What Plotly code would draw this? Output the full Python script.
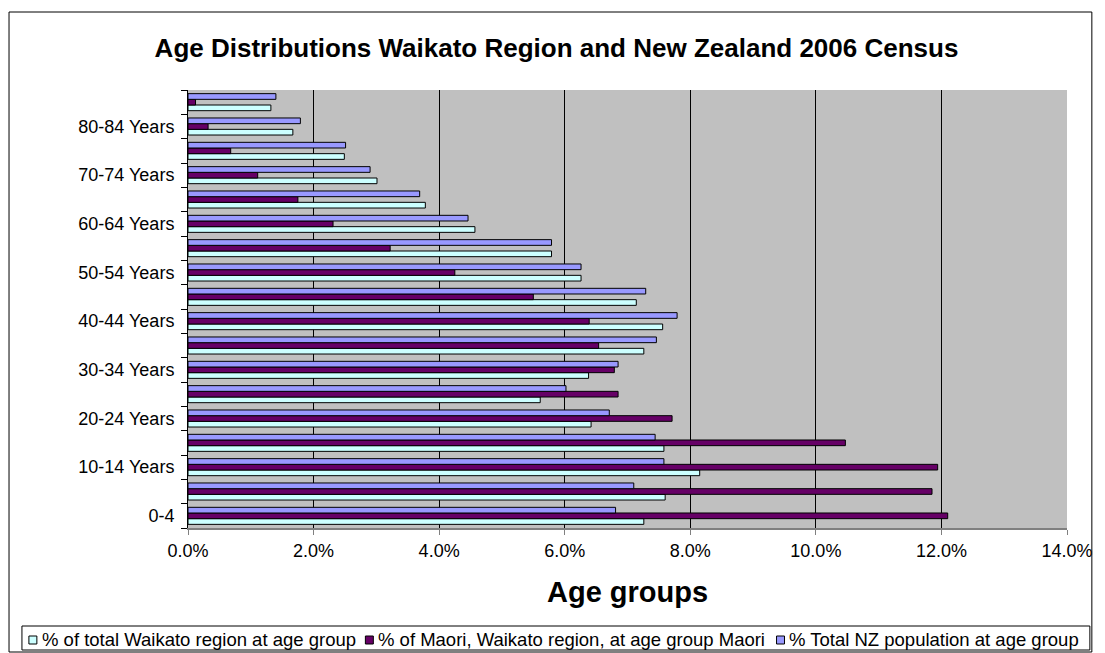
import plotly.graph_objects as go

categories = ["0-4", "5-9 Years", "10-14 Years", "15-19 Years", "20-24 Years", "25-29 Years",
              "30-34 Years", "35-39 Years", "40-44 Years", "45-49 Years", "50-54 Years",
              "55-59 Years", "60-64 Years", "65-69 Years", "70-74 Years", "75-79 Years",
              "80-84 Years", "85+ Years"]
shown_labels = ["0-4", "", "10-14 Years", "", "20-24 Years", "", "30-34 Years", "",
                "40-44 Years", "", "50-54 Years", "", "60-64 Years", "", "70-74 Years", "",
                "80-84 Years", ""]

waikato = [7.26, 7.60, 8.15, 7.58, 6.42, 5.61, 6.38, 7.26, 7.56, 7.14, 6.26, 5.79,
           4.57, 3.78, 3.01, 2.49, 1.67, 1.32]
maori = [12.10, 11.85, 11.94, 10.47, 7.71, 6.85, 6.79, 6.54, 6.39, 5.50, 4.25, 3.22,
         2.31, 1.75, 1.11, 0.68, 0.32, 0.12]
nz = [6.81, 7.10, 7.58, 7.44, 6.71, 6.02, 6.85, 7.46, 7.79, 7.29, 6.26, 5.79,
      4.46, 3.69, 2.90, 2.51, 1.79, 1.40]

series_names = ["% of total Waikato region at age group",
                "% of Maori, Waikato region, at age group Maori",
                "% Total NZ population at age group"]
colors = ["#CCFFFF", "#660066", "#9999FF"]

FONT = "Liberation Sans, Arial, sans-serif"

fig = go.Figure()
for name, vals, col in zip(series_names, [waikato, maori, nz], colors):
    fig.add_trace(go.Bar(
        y=categories, x=vals, name=name, orientation="h", showlegend=False,
        marker=dict(color=col, line=dict(color="black", width=1)),
    ))

# the page body has an 8px margin, so the figure starts at (8, 8) in the window
OFF = 8
W, H = 1105 - OFF, 653 - OFF
L, R, T, B = 188 - OFF, 1072 - OFF, 90 - OFF, 528 - OFF
pw, ph = R - L, B - T

def px(xp):
    return (xp - OFF - L) / pw

def py(yp):
    return (B - (yp - OFF)) / ph

# legend key drawn as a boxed row below the chart (window pixel positions)
LEG_FONT = 18.5
leg_left, leg_right, leg_top, leg_bottom = 21, 1095, 626, 650
leg_mid = 639
text_w = [16.94 * LEG_FONT, 21.0 * LEG_FONT, 15.57 * LEG_FONT]

shapes = [dict(type="rect", xref="paper", yref="paper",
               x0=px(8), x1=px(1097), y0=py(652), y1=py(12),
               line=dict(color="black", width=1), layer="below"),
          dict(type="rect", xref="paper", yref="paper",
               x0=px(leg_left), x1=px(leg_right), y0=py(leg_bottom), y1=py(leg_top),
               line=dict(color="black", width=1), fillcolor="white", layer="above")]
annotations = [dict(text="<b>Age groups</b>", xref="paper", yref="paper",
                    x=0.5, y=py(592), xanchor="center", yanchor="middle",
                    showarrow=False, font=dict(family=FONT, size=29, color="black"))]

x = 28
for name, col, tw in zip(series_names, colors, text_w):
    shapes.append(dict(type="rect", xref="paper", yref="paper",
                       x0=px(x), x1=px(x + 8), y0=py(leg_mid + 5), y1=py(leg_mid - 3),
                       line=dict(color="black", width=1), fillcolor=col, layer="above"))
    annotations.append(dict(text=name, xref="paper", yref="paper",
                            x=px(x + 11), y=py(leg_mid), xanchor="left", yanchor="middle",
                            showarrow=False,
                            font=dict(family=FONT, size=LEG_FONT, color="black")))
    x = x + 11 + tw + 14

fig.update_layout(
    width=W, height=H,
    margin=dict(l=L, r=W - R, t=T, b=H - B, pad=0),
    paper_bgcolor="white",
    plot_bgcolor="#C0C0C0",
    barmode="group",
    bargap=0.3,
    bargroupgap=0,
    font=dict(family=FONT, size=18, color="black"),
    title=dict(text="<b>Age Distributions Waikato Region and New Zealand 2006 Census</b>",
               x=0.5, xref="container", xanchor="center",
               y=1 - (48 - OFF) / H, yref="container", yanchor="middle",
               font=dict(family=FONT, size=26, color="black")),
    xaxis=dict(range=[0, 14], dtick=2, tick0=0, tickformat=".1f", ticksuffix="%",
               showgrid=True, gridcolor="black", gridwidth=1,
               showline=True, linecolor="#808080", linewidth=2,
               ticks="outside", ticklen=5, tickcolor="#808080",
               zeroline=False, fixedrange=True,
               tickfont=dict(family=FONT, size=18, color="black")),
    yaxis=dict(type="category", categoryorder="array", categoryarray=categories,
               tickmode="array", tickvals=categories, ticktext=shown_labels,
               tickson="boundaries", ticks="outside", ticklen=6, tickcolor="black",
               showline=True, linecolor="black", linewidth=1, showgrid=False,
               zeroline=False, fixedrange=True, ticklabelstandoff=9,
               tickfont=dict(family=FONT, size=18, color="black")),
    showlegend=False,
    shapes=shapes,
    annotations=annotations,
)

fig.write_html("out.html")
